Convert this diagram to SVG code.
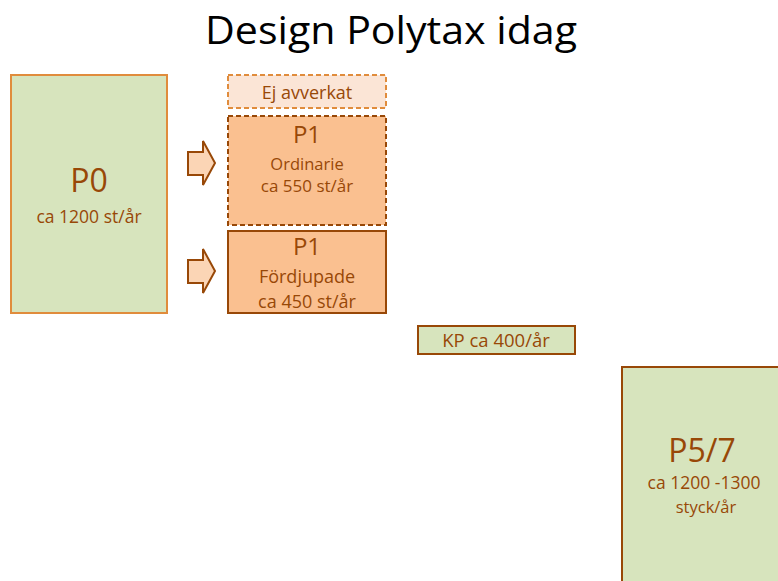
<svg xmlns="http://www.w3.org/2000/svg" width="778" height="581" viewBox="0 0 778 581">
  <style>
    text { font-family: "Open Sans", "Liberation Sans", sans-serif; fill: #984807; text-anchor: middle; }
    .title { fill: #000; font-size: 38px; }
    .green { fill: #d7e4bd; }
    .big { font-size: 32px; }
    .mid { font-size: 24px; }
    .arrow { fill: #fbd5b5; stroke: #984807; stroke-width: 2; stroke-linejoin: miter; }
  </style>
  <rect width="778" height="581" fill="#fff"/>
  <text class="title" x="391" y="44" textLength="372" lengthAdjust="spacingAndGlyphs">Design Polytax idag</text>

  <g id="p0">
    <rect class="green" x="11" y="75" width="156" height="238" stroke="#e08c3c" stroke-width="2"/>
    <text class="big" x="89" y="192">P0</text>
    <text x="89" y="223" font-size="17.5">ca 1200 st/år</text>
  </g>

  <g id="ej-avverkat">
    <rect x="228" y="75" width="158" height="33" fill="#fbe5d6" stroke="#e08c3c" stroke-width="2" stroke-dasharray="5 3"/>
    <text x="307" y="99" font-size="18">Ej avverkat</text>
  </g>

  <g id="p1-ordinarie">
    <rect x="228" y="116" width="158" height="109" fill="#fac090" stroke="#984807" stroke-width="2" stroke-dasharray="5 3"/>
    <text class="mid" x="307" y="143">P1</text>
    <text x="307" y="170" font-size="16.5">Ordinarie</text>
    <text x="307" y="192" font-size="17">ca 550 st/år</text>
  </g>

  <g id="p1-fordjupade">
    <rect x="228" y="231" width="158" height="82" fill="#fac090" stroke="#984807" stroke-width="2"/>
    <text class="mid" x="307" y="255">P1</text>
    <text x="307" y="283" font-size="18">Fördjupade</text>
    <text x="307" y="308" font-size="18">ca 450 st/år</text>
  </g>

  <g id="kp">
    <rect class="green" x="418" y="326" width="157" height="28" stroke="#984807" stroke-width="2"/>
    <text x="496" y="347" font-size="18.5">KP ca 400/år</text>
  </g>

  <g id="p5-7">
    <rect class="green" x="622" y="367" width="170" height="230" stroke="#984807" stroke-width="2"/>
    <text class="big" x="702" y="462">P5/7</text>
    <text x="704" y="489" font-size="17.5">ca 1200 -1300</text>
    <text x="706" y="513" font-size="16.5">styck/år</text>
  </g>

  <g id="connectors">
    <polygon class="arrow" points="188,152 203,152 203,141 215,163 203,185 203,175 188,175"/>
    <polygon class="arrow" points="188,260 203,260 203,249 215,271 203,293 203,283 188,283"/>
  </g>
</svg>
